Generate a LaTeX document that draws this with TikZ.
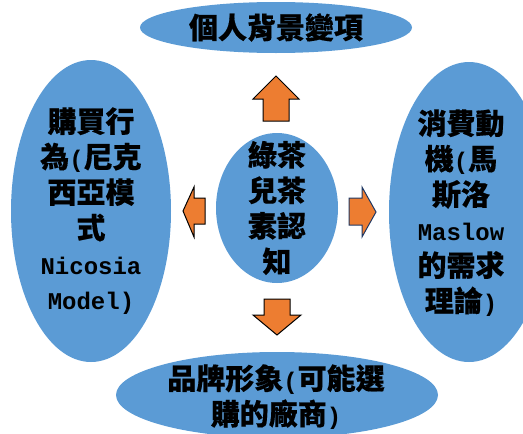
\documentclass[tikz,border=0pt]{standalone}
\usepackage{fontspec}
\setmainfont{Liberation Mono}
\newfontfamily\cjkf[FakeBold=0.4]{Noto Sans CJK TC}
\newcommand\zh[1]{{\cjkf\fontsize{29}{35.5}\selectfont #1}}
\usetikzlibrary{shapes.geometric}
\definecolor{ellblue}{HTML}{5B9BD5}
\definecolor{arrorange}{HTML}{ED7D31}
\definecolor{navyline}{HTML}{1F3864}
\begin{document}
\begin{tikzpicture}[x=1pt,y=-1pt,
 ell/.style={ellipse,fill=ellblue,draw=none,inner sep=0pt},
 lbl/.style={align=center,inner sep=0pt,font=\fontsize{24}{35.5}\selectfont\bfseries},
 fatarrow/.style={fill=arrorange,draw=black,line width=1pt,line join=miter}]
\useasboundingbox (0,0) rectangle (523,434);
\begin{scope}
\clip (0,0) rectangle (523,434);
\node[ell,minimum width=272pt,minimum height=51pt] (top) at (276,27.5) {};
\node[ell,minimum width=160pt,minimum height=302pt] (left) at (91,211) {};
\node[ell,minimum width=160pt,minimum height=300pt] (right) at (469,212) {};
\node[ell,minimum width=122pt,minimum height=150pt] (mid) at (277,208) {};
\node[ell,minimum width=322pt,minimum height=86pt] (bot) at (277,395) {};

\node[lbl] (topt) at (top.center) {\zh{個人背景變項}};
\node[lbl] (leftt) at (left.center) {\zh{購買行}\\\zh{為}(\zh{尼克}\\\zh{西亞模}\\\zh{式}\\Nicosia\\Model)};
\node[lbl] (rightt) at (461,213) {\zh{消費動}\\\zh{機}(\zh{馬}\\\zh{斯洛}\\Maslow\\\zh{的需求}\\\zh{理論})};
\node[lbl] (midt) at (mid.center) {\zh{綠茶}\\\zh{兒茶}\\\zh{素認}\\\zh{知}};
\node[lbl] (bott) at (276,397) {\zh{品牌形象}(\zh{可能選}\\\zh{購的廠商})};

% arrows
\draw[fatarrow] (276,76) -- (299,99) -- (289,99) -- (289,121) -- (263,121) -- (263,99) -- (253,99) -- cycle;
\draw[fatarrow] (264,299) -- (290,299) -- (290,315) -- (301,315) -- (277,335) -- (253,315) -- (264,315) -- cycle;
\draw[fatarrow] (183,211) -- (194,187) -- (194,198) -- (205,198) -- (205,224) -- (194,224) -- (194,237) -- cycle;
\draw[fatarrow,draw=navyline] (376,212) -- (362,187) -- (362,198) -- (349,198) -- (349,225) -- (362,225) -- (362,237) -- cycle;
\end{scope}
\end{tikzpicture}
\end{document}
